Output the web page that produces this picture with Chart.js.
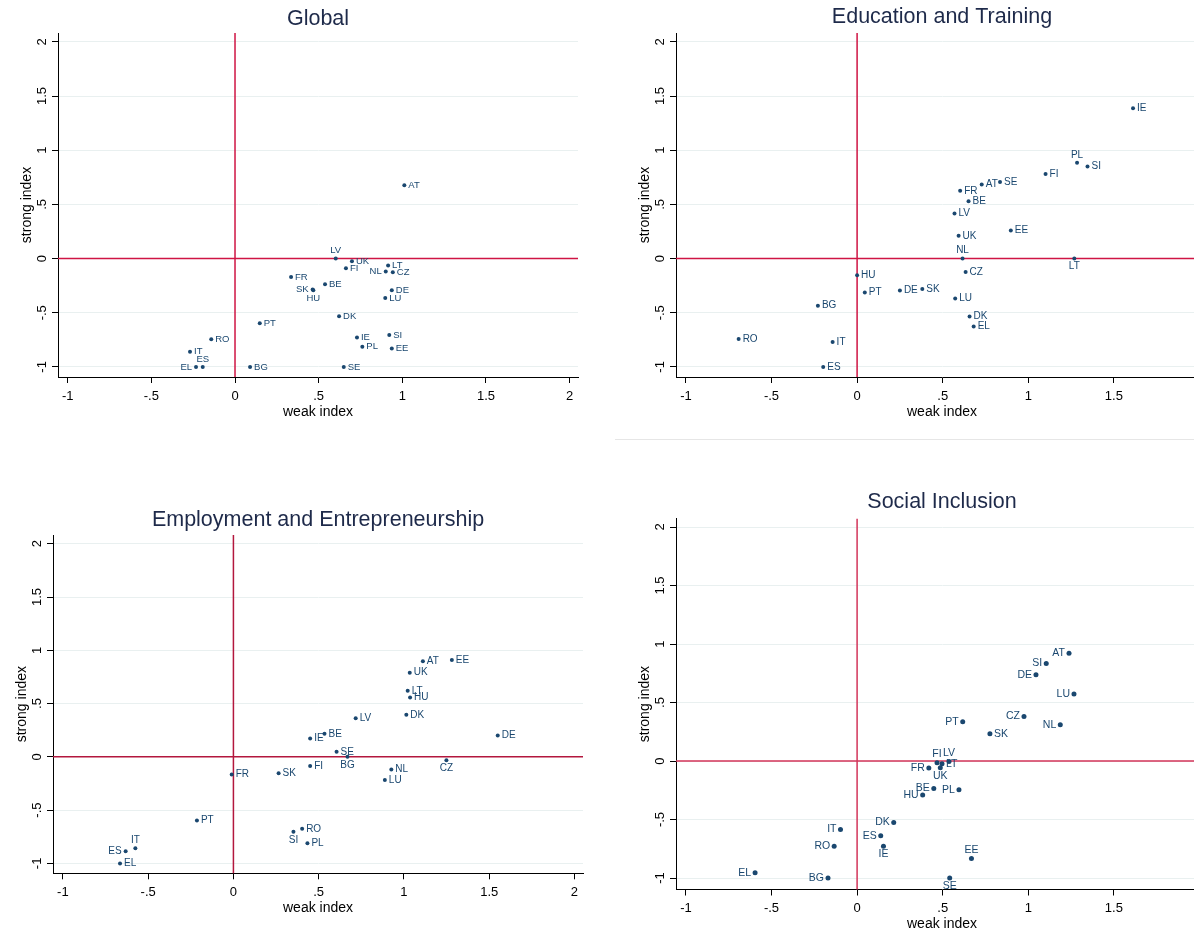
<!DOCTYPE html>
<html><head><meta charset="utf-8">
<script src="https://cdn.jsdelivr.net/npm/chart.js@4.4.1/dist/chart.umd.min.js"></script>
<style>
html,body{margin:0;padding:0;background:#fff;}
#wrap{position:relative;width:1194px;height:936px;overflow:hidden;background:#fff;}
canvas{position:absolute;}
#sep{position:absolute;left:615px;top:439px;width:579px;height:0;border-top:1px solid #e6e6e6;}
</style></head><body>
<div id="wrap">
<div id="sep"></div>
<canvas id="c1" width="597" height="468" style="left:0;top:0"></canvas>
<canvas id="c2" width="625" height="468" style="left:597px;top:0"></canvas>
<canvas id="c3" width="597" height="468" style="left:0;top:468px"></canvas>
<canvas id="c4" width="625" height="468" style="left:597px;top:468px"></canvas>
</div>
<script>
// ---- tick labels ----
const yTicks = [-1, -0.5, 0, 0.5, 1, 1.5, 2];
const xTicks = [-1, -0.5, 0, 0.5, 1, 1.5, 2];

// ---- Global ----
const globalCountries = ['AT','LV','UK','FI','LT','NL','CZ','FR','BE','SK','HU','DE','LU','DK','PT','RO','IE','SI','PL','EE','IT','ES','EL','BG','SE'];
const globalWeak   = [1.012,0.602,0.699,0.663,0.915,0.901,0.943,0.335,0.538,0.464,0.468,0.937,0.898,0.622,0.148,-0.142,0.729,0.922,0.761,0.937,-0.269,-0.193,-0.233,0.090,0.650];
const globalStrong = [0.677,0.000,-0.025,-0.090,-0.065,-0.120,-0.127,-0.170,-0.237,-0.286,-0.292,-0.293,-0.364,-0.533,-0.597,-0.745,-0.729,-0.705,-0.813,-0.831,-0.859,-1.000,-1.000,-1.000,-1.000];

// ---- Education and Training ----
const eduCountries = ['IE','PL','SI','FI','AT','SE','FR','BE','LV','UK','EE','NL','LT','HU','CZ','PT','DE','SK','LU','BG','DK','EL','RO','IT','ES'];
const eduWeak   = [1.612,1.285,1.346,1.101,0.728,0.835,0.602,0.651,0.569,0.593,0.898,0.616,1.269,0.000,0.634,0.045,0.250,0.381,0.573,-0.229,0.657,0.681,-0.692,-0.143,-0.198];
const eduStrong = [1.388,0.884,0.850,0.780,0.684,0.706,0.625,0.530,0.416,0.210,0.259,0.000,0.000,-0.154,-0.124,-0.313,-0.294,-0.281,-0.368,-0.435,-0.534,-0.626,-0.743,-0.770,-1.000];

// ---- Employment and Entrepreneurship ----
const empCountries = ['LV','BE','IE','SE','BG','FI','FR','SK','PT','RO','SI','PL','IT','ES','EL','AT','EE','UK','LT','HU','DK','DE','CZ','NL','LU'];
const empWeak   = [0.717,0.534,0.450,0.605,0.669,0.450,-0.010,0.265,-0.214,0.403,0.352,0.434,-0.575,-0.632,-0.665,1.111,1.281,1.034,1.022,1.036,1.014,1.550,1.249,0.926,0.888];
const empStrong = [0.363,0.216,0.172,0.047,0.000,-0.087,-0.166,-0.153,-0.598,-0.676,-0.704,-0.810,-0.857,-0.885,-1.000,0.898,0.910,0.790,0.620,0.557,0.394,0.200,-0.031,-0.119,-0.218];

// ---- Social Inclusion ----
const socCountries = ['AT','SI','DE','LU','CZ','NL','PT','SK','FI','LV','LT','UK','FR','BE','HU','PL','DK','IT','ES','RO','IE','EE','EL','BG','SE'];
const socWeak   = [1.238,1.105,1.045,1.267,0.975,1.187,0.617,0.776,0.467,0.537,0.496,0.486,0.419,0.448,0.383,0.595,0.214,-0.097,0.138,-0.134,0.154,0.668,-0.596,-0.170,0.541];
const socStrong = [0.921,0.833,0.738,0.572,0.380,0.309,0.335,0.234,-0.014,-0.003,-0.023,-0.057,-0.060,-0.235,-0.290,-0.246,-0.526,-0.586,-0.638,-0.729,-0.729,-0.832,-0.955,-1.000,-1.000];

// label clock positions (3 right, 9 left, 12 above, 6 below)
const globalLabelPos = {LV:12, NL:9, SK:9, HU:6, ES:12, EL:9};
const eduLabelPos = {PL:12, NL:12, LT:6};
const empLabelPos = {BG:6, SI:6, IT:12, ES:9, CZ:6};
const socLabelPos = {SK:3, FI:12, LV:12, LT:3, UK:6, IE:6, EE:12, SE:6};

const FONT = '"Liberation Sans", Arial, Helvetica, sans-serif';
const NAVY = '#1a476f';
const GRID = '#e9f0f0';
const TITLE = '#1e2a4a';

function fmt(v){
  if (Math.abs(v) < 1e-9) return '0';
  const s = String(Math.abs(v)).replace(/^0\./, '.');
  return (v < 0 ? '-' : '') + s;
}

const panelTitle = {
  id: 'panelTitle',
  afterDraw(chart, args, opts){
    const {ctx, chartArea: a} = chart;
    ctx.save();
    ctx.font = opts.size + 'px ' + FONT;
    ctx.fillStyle = TITLE;
    ctx.textAlign = 'center';
    ctx.textBaseline = 'middle';
    ctx.fillText(opts.text, (a.left + a.right) / 2, opts.y);
    ctx.restore();
  }
};

const labelPlugin = {
  id: 'mlabels',
  afterDatasetsDraw(chart, args, opts){
    const ctx = chart.ctx;
    const meta = chart.getDatasetMeta(0);
    const names = chart.data.labels;
    ctx.save();
    ctx.font = opts.size + 'px ' + FONT;
    ctx.fillStyle = NAVY;
    meta.data.forEach((pt, i) => {
      const name = names[i];
      const pos = opts.pos[name] || opts.def;
      let x = pt.x, y = pt.y;
      if (pos === 3){ ctx.textAlign = 'left'; ctx.textBaseline = 'middle'; x += opts.gap; }
      else if (pos === 9){ ctx.textAlign = 'right'; ctx.textBaseline = 'middle'; x -= opts.gap; }
      else if (pos === 12){ ctx.textAlign = 'center'; ctx.textBaseline = 'bottom'; y -= opts.vgap; }
      else { ctx.textAlign = 'center'; ctx.textBaseline = 'top'; y += opts.vgap; }
      ctx.fillText(name, x, y);
    });
    ctx.restore();
  }
};

const refLines = {
  id: 'refLines',
  beforeDatasetsDraw(chart, args, opts){
    const {ctx, chartArea: a, scales: {x, y}} = chart;
    const px = x.getPixelForValue(0), py = y.getPixelForValue(0);
    ctx.save();
    ctx.strokeStyle = opts.color;
    ctx.lineWidth = opts.width;
    ctx.beginPath();
    ctx.moveTo(px, a.top); ctx.lineTo(px, a.bottom);
    ctx.moveTo(a.left, py); ctx.lineTo(a.right, py);
    ctx.stroke();
    ctx.restore();
  }
};

function makeChart(id, spec){
  const cv = document.getElementById(id);
  const W = cv.width, H = cv.height, WY = 50, HX = 44;
  const a = spec.area;
  return new Chart(cv, {
    type: 'scatter',
    data: {
      labels: spec.countries,
      datasets: [{
        data: spec.weak.map((v, i) => ({x: v, y: spec.strong[i]})),
        backgroundColor: NAVY, borderColor: NAVY, borderWidth: 0,
        pointRadius: spec.r, pointHoverRadius: spec.r
      }]
    },
    options: {
      responsive: false, animation: false, devicePixelRatio: 1,
      events: [],
      layout: {padding: {left: a.l - WY, right: W - a.r, top: a.t, bottom: H - a.b - HX}},
      plugins: {
        legend: {display: false},
        tooltip: {enabled: false},
        title: {display: false},
        panelTitle: {text: spec.title, y: spec.tc, size: 21.5},
        mlabels: {pos: spec.lpos, def: spec.ldef, size: spec.lsize, gap: 4, vgap: 3},
        refLines: {color: spec.red, width: 1.5}
      },
      scales: {
        x: {
          type: 'linear', min: -1.058, max: 2.050,
          afterFit(s){ s.height = HX; },
          afterBuildTicks(s){ s.ticks = xTicks.map(v => ({value: v})); },
          grid: {drawOnChartArea: false, drawTicks: true, tickLength: 6, tickColor: '#000', tickWidth: 1},
          border: {display: true, color: '#000', width: 1},
          ticks: {color: '#000', font: {family: FONT, size: 13}, padding: 5.5, maxRotation: 0, minRotation: 0, autoSkip: false, callback: fmt},
          title: {display: true, text: 'weak index', color: '#000', font: {family: FONT, size: 14}, padding: {top: 0, bottom: 0.5}}
        },
        y: {
          type: 'linear', min: spec.ymin ?? -1.093, max: spec.ymax ?? 2.082,
          afterFit(s){ s.width = WY; },
          afterBuildTicks(s){ s.ticks = yTicks.map(v => ({value: v})); },
          grid: {color: GRID, lineWidth: 1, drawTicks: true, tickLength: 6, tickColor: '#000', tickWidth: 1},
          border: {display: true, color: '#000', width: 1},
          ticks: {color: '#000', font: {family: FONT, size: 13}, padding: 1, minRotation: 90, maxRotation: 90, crossAlign: 'center', autoSkip: false, callback: fmt},
          title: {display: true, text: 'strong index', color: '#000', font: {family: FONT, size: 14}, padding: {top: 11, bottom: 0}}
        }
      }
    },
    plugins: [refLines, labelPlugin, panelTitle]
  });
}

makeChart('c1', {
  title: 'Global', countries: globalCountries, weak: globalWeak, strong: globalStrong,
  area: {l: 58, r: 578, t: 33, b: 377}, tc: 19,
  lpos: globalLabelPos, ldef: 3, lsize: 9.5, r: 2, red: '#cf1544'
});
makeChart('c2', {
  title: 'Education and Training', countries: eduCountries, weak: eduWeak, strong: eduStrong,
  area: {l: 79, r: 611, t: 33, b: 377}, tc: 17,
  lpos: eduLabelPos, ldef: 3, lsize: 10, r: 2, red: '#cf1544'
});
makeChart('c3', {
  title: 'Employment and Entrepreneurship', countries: empCountries, weak: empWeak, strong: empStrong,
  area: {l: 53, r: 583, t: 67, b: 405.3}, tc: 52,
  lpos: empLabelPos, ldef: 3, lsize: 10, r: 2, red: '#b3173d'
});
makeChart('c4', {
  title: 'Social Inclusion', countries: socCountries, weak: socWeak, strong: socStrong,
  area: {l: 79, r: 611, t: 50.7, b: 421.5}, tc: 34, ymin: -1.098, ymax: 2.071,
  lpos: socLabelPos, ldef: 9, lsize: 10.5, r: 2.5, red: '#d3355a'
});
</script>
</body></html>
